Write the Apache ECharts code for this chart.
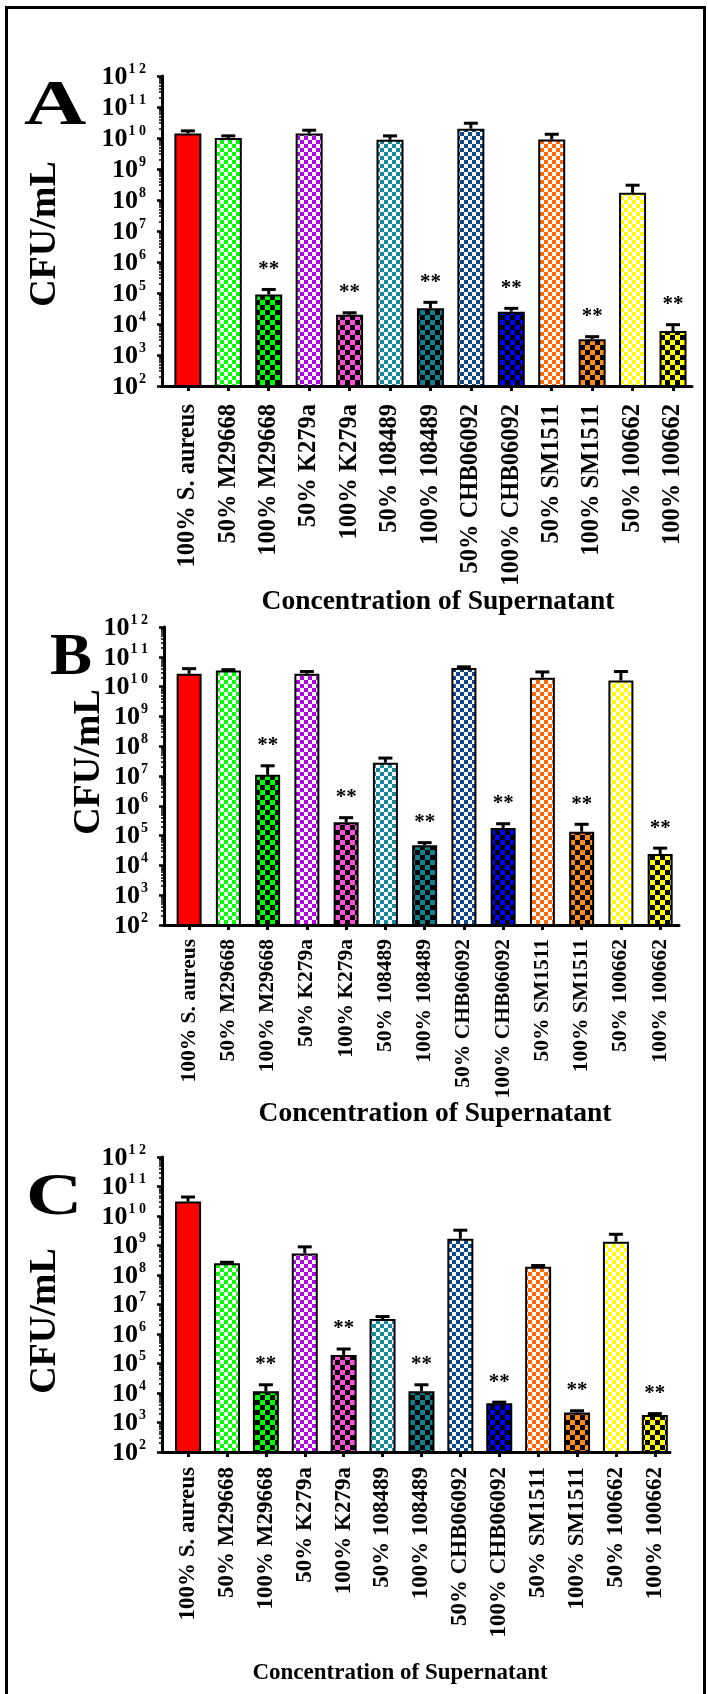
<!DOCTYPE html>
<html>
<head>
<meta charset="utf-8">
<script src="https://cdn.jsdelivr.net/npm/echarts@6/dist/echarts.min.js"></script>
<style>
  html, body { margin: 0; padding: 0; background: #fff; }
  #chart { width: 708px; height: 1694px; }
</style>
</head>
<body>
<div id="chart"></div>
<script>
// Treatment groups on the x axis
const categories = [
  '100% S. aureus', '50% M29668', '100% M29668', '50% K279a', '100% K279a',
  '50% 108489', '100% 108489', '50% CHB06092', '100% CHB06092',
  '50% SM1511', '100% SM1511', '50% 100662', '100% 100662'
];

// Panel A: mean CFU/mL and standard deviation
const meanA = [1.4e10, 1.0e10, 9.0e4, 1.4e10, 2.0e4, 8.8e9, 3.2e4, 2.0e10, 2.5e4, 8.9e9, 3.2e3, 1.7e8, 5.9e3];
const sdA   = [3.0e9, 1.7e9, 4.0e4, 3.8e9, 3.0e3, 2.9e9, 1.8e4, 1.0e10, 7.0e3, 4.3e9, 7.0e2, 1.3e8, 3.6e3];

// Panel B
const meanB = [2.7e10, 3.5e10, 1.1e7, 2.7e10, 2.8e5, 2.8e7, 4.7e4, 4.2e10, 1.8e5, 2.0e10, 1.35e5, 1.6e10, 2.4e4];
const sdB   = [1.3e10, 2.0e9, 1.1e7, 5.0e9, 1.2e5, 1.2e7, 1.1e4, 4.0e9, 7.0e4, 1.1e10, 1.05e5, 1.6e10, 1.4e4];

// Panel C
const meanC = [3.1e10, 2.5e8, 1.15e4, 5.4e8, 1.95e5, 3.2e6, 1.15e4, 1.7e9, 4.5e3, 1.9e8, 2.2e3, 1.35e9, 1.8e3];
const sdC   = [1.3e10, 2.0e7, 7.5e3, 3.6e8, 1.15e5, 7.0e5, 7.5e3, 1.6e9, 4.0e2, 2.0e7, 3.0e2, 1.05e9, 2.0e2];

// Significance marks versus the S. aureus control
const significance = ['', '', '**', '', '**', '', '**', '', '**', '', '**', '', '**'];

// Decade ticks of the log axis
const yTicks = [1e2, 1e3, 1e4, 1e5, 1e6, 1e7, 1e8, 1e9, 1e10, 1e11, 1e12];

const FONT = '"Liberation Serif", "Times New Roman", serif';

// Category positions on the numeric x axis, and minor log ticks (2..9 per decade)
const xTicks = categories.map((_, i) => i);
const minorTicks = [];
yTicks.slice(0, -1).forEach(d => { for (let k = 2; k <= 9; k++) minorTicks.push(d * k); });

// Checkered fills: 50% supernatant = coloured checks on white, 100% = on black
function checker(bg, fg, cell) {
  const c = document.createElement('canvas');
  c.width = c.height = cell * 2;
  const g = c.getContext('2d');
  g.fillStyle = bg; g.fillRect(0, 0, cell * 2, cell * 2);
  g.fillStyle = fg; g.fillRect(0, 0, cell, cell); g.fillRect(cell, cell, cell, cell);
  return { image: c, repeat: 'repeat' };
}
const fills = [
  '#ff0000',
  checker('#ffffff', '#00ff00', 4),
  checker('#000000', '#00ff00', 5),
  checker('#ffffff', '#b400e6', 4),
  checker('#000000', '#ff4fd8', 5),
  checker('#ffffff', '#138a9e', 4),
  checker('#000000', '#11808e', 5),
  checker('#ffffff', '#0a4a8c', 4),
  checker('#000000', '#0000ff', 5),
  checker('#ffffff', '#ff6a00', 4),
  checker('#000000', '#ff8c1a', 5),
  checker('#ffffff', '#ffff00', 4),
  checker('#000000', '#ffff00', 5)
];

// Panel geometry
const panels = [
  { letter: 'A', mean: meanA, sd: sdA, left: 162, top: 76, width: 530, height: 310, xMin: -0.64, xMax: 12.47,
    barWidth: 27, cap: 14, labelSize: 24.5, labelMargin: 18,
    letterX: 24, letterY: 75, letterSize: 64, letterScale: 1.35, nameX: 45, nameY: 234,
    titleX: 438, titleY: 602, titleSize: 27.5 },
  { letter: 'B', mean: meanB, sd: sdB, left: 164, top: 627, width: 515, height: 298, xMin: -0.64, xMax: 12.48,
    barWidth: 25, cap: 14, labelSize: 21.5, labelMargin: 14,
    letterX: 50, letterY: 628, letterSize: 60, letterScale: 1.05, nameX: 89, nameY: 762,
    titleX: 435, titleY: 1114, titleSize: 27.5 },
  { letter: 'C', mean: meanC, sd: sdC, left: 162, top: 1157, width: 508, height: 295, xMin: -0.67, xMax: 12.39,
    barWidth: 26, cap: 14, labelSize: 23, labelMargin: 15,
    letterX: 26, letterY: 1168, letterSize: 60, letterScale: 1.3, nameX: 45, nameY: 1321,
    titleX: 400, titleY: 1673, titleSize: 23 }
];

function supLabel(v) {
  const e = Math.round(Math.log10(v));
  const s = e >= 10 ? String(e).split('').join(' ') : String(e);
  return '{b|10}{s|' + s + '}';
}

const option = {
  animation: false,
  backgroundColor: '#ffffff',
  grid: [], xAxis: [], yAxis: [], series: [], graphic: []
};

// Outer frame
option.graphic.push({
  type: 'rect', left: 4, top: 5, shape: { x: 0, y: 0, width: 698, height: 1720 },
  style: { fill: null, stroke: '#000', lineWidth: 3 }, silent: true
});

panels.forEach((p, gi) => {
  option.grid.push({ left: p.left, top: p.top, width: p.width, height: p.height, containLabel: false });

  option.xAxis.push({
    type: 'value', gridIndex: gi, min: p.xMin, max: p.xMax, z: 6,
    axisLine: { onZero: false, lineStyle: { color: '#000', width: 3 } },
    axisTick: { customValues: xTicks, length: 5, lineStyle: { color: '#000', width: 3 } },
    axisLabel: {
      customValues: xTicks, formatter: v => categories[Math.round(v)],
      rotate: 90, margin: p.labelMargin, color: '#000',
      fontFamily: FONT, fontWeight: 'bold', fontSize: p.labelSize
    },
    splitLine: { show: false }
  });

  // main log axis with decade ticks and labels
  option.yAxis.push({
    type: 'log', gridIndex: gi, position: 'left', logBase: 10, min: 1e2, max: 1e12, z: 6,
    axisLine: { show: true, onZero: false, lineStyle: { color: '#000', width: 3 } },
    axisTick: { show: true, length: 5, customValues: yTicks, lineStyle: { color: '#000', width: 2.5 } },
    axisLabel: {
      customValues: yTicks, margin: 16, color: '#000', formatter: supLabel,
      rich: {
        b: { fontFamily: FONT, fontWeight: 'bold', fontSize: 26, lineHeight: 28, verticalAlign: 'bottom', color: '#000' },
        s: { fontFamily: FONT, fontWeight: 'bold', fontSize: 14, lineHeight: 15, verticalAlign: 'top', color: '#000', padding: [0, 0, 0, 1] }
      }
    },
    splitLine: { show: false }
  });
  // overlaid axis carrying the minor log ticks
  option.yAxis.push({
    type: 'log', gridIndex: gi, position: 'left', logBase: 10, min: 1e2, max: 1e12, z: 6,
    axisLine: { show: false, onZero: false },
    axisTick: { show: true, length: 3, customValues: minorTicks, lineStyle: { color: '#000', width: 1.5 } },
    axisLabel: { show: false },
    splitLine: { show: false }
  });

  const yMain = gi * 2;

  option.series.push({
    type: 'bar', xAxisIndex: gi, yAxisIndex: yMain, barWidth: p.barWidth, clip: true, z: 2,
    data: p.mean.map((v, i) => ({
      value: [i, v],
      itemStyle: { color: fills[i], borderColor: '#000', borderWidth: 2 }
    }))
  });

  // upper error bars with caps, plus significance stars
  option.series.push({
    type: 'custom', xAxisIndex: gi, yAxisIndex: yMain, z: 4, clip: false,
    data: p.mean.map((v, i) => [i, v, v + p.sd[i]]),
    renderItem: (params, api) => {
      const i = api.value(0);
      const p0 = api.coord([i, api.value(1)]);
      const p1 = api.coord([i, api.value(2)]);
      const half = p.cap / 2;
      const line = { stroke: '#000', lineWidth: 3 };
      const children = [
        { type: 'line', shape: { x1: p0[0], y1: p0[1], x2: p1[0], y2: p1[1] }, style: line },
        { type: 'line', shape: { x1: p1[0] - half, y1: p1[1], x2: p1[0] + half, y2: p1[1] }, style: line }
      ];
      if (significance[i]) {
        children.push({
          type: 'text',
          style: {
            text: significance[i], x: p1[0], y: p1[1] - 20,
            align: 'center', verticalAlign: 'middle',
            font: 'bold 21px ' + FONT, fill: '#000'
          }
        });
      }
      return { type: 'group', children };
    }
  });

  // panel letter, y-axis name, x-axis title
  option.graphic.push({
    type: 'text', x: p.letterX, y: p.letterY, scaleX: p.letterScale,
    style: { text: p.letter, font: 'bold ' + p.letterSize + 'px ' + FONT, fill: '#000' }
  });
  option.graphic.push({
    type: 'text', x: p.nameX, y: p.nameY, rotation: Math.PI / 2,
    style: { text: 'CFU/mL', font: 'bold 38px ' + FONT, fill: '#000', align: 'center', verticalAlign: 'middle' }
  });
  option.graphic.push({
    type: 'text', x: p.titleX, y: p.titleY,
    style: { text: 'Concentration of Supernatant', font: 'bold ' + p.titleSize + 'px ' + FONT, fill: '#000', align: 'center', verticalAlign: 'middle' }
  });
});

const chart = echarts.init(document.getElementById('chart'), null, { renderer: 'canvas' });
chart.setOption(option);
</script>
</body>
</html>
